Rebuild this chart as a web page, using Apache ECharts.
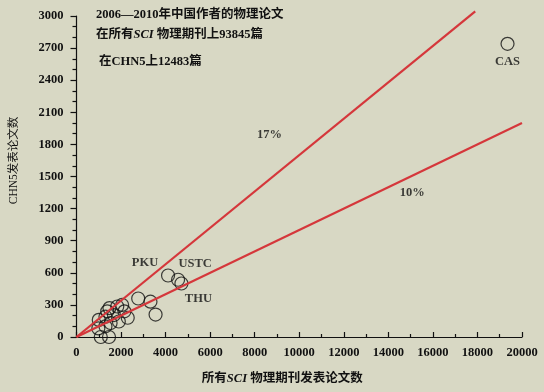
<!DOCTYPE html>
<html><head><meta charset="utf-8">
<script src="https://cdn.jsdelivr.net/npm/echarts@6/dist/echarts.min.js"></script>
<style>html,body{margin:0;padding:0;background:#d8d8c4;}#c{width:544px;height:392px;}</style>
</head><body><div id="c"></div>
<script>
// Data
const points = [
  [980, 80], [1090, 0], [1460, 0], [1000, 160], [1300, 190], [1680, 205],
  [1530, 130], [1900, 145], [1300, 100], [1480, 270], [1830, 285], [2050, 300],
  [2150, 240], [2300, 180], [1380, 240], [2770, 360], [3320, 330], [3550, 210]
];
const namedNames = ['PKU', 'USTC', 'THU', 'CAS'];
const namedPoints = [[4110, 575], [4560, 535], [4710, 500], [19350, 2740]];
const line17 = [[0, 0], [17900, 3043]];
const line10 = [[0, 0], [20000, 2000]];
const lineLabels = ['17%', '10%'];
const lineLabelPos = [[8670, 1890], [15070, 1350]];
const xTicks = [0, 20000, 2000];
const yTicks = [0, 3000, 300];
const titleLines = ['2006—2010年中国作者的物理论文', '在所有{i|SCI} 物理期刊上93845篇', '在CHN5上12483篇'];

const FONT = "'Liberation Serif','Noto Sans CJK SC',serif";
const TXT = '#111';
const labelOffsets = [[-23, -13], [17, -16], [17, 15], [0, 18]];

const chart = echarts.init(document.getElementById('c'));
chart.setOption({
  backgroundColor: '#d8d8c4',
  animation: false,
  grid: { left: 74, right: 22, top: 16, bottom: 55 },
  xAxis: {
    type: 'value', min: xTicks[0], max: xTicks[1], interval: xTicks[2],
    name: '所有{i|SCI} 物理期刊发表论文数', nameLocation: 'middle', nameGap: 36,
    nameTextStyle: { fontFamily: FONT, fontWeight: 'bold', fontSize: 12.5, color: TXT, padding: [0, 34, 0, 0],
      rich: { i: { fontFamily: FONT, fontStyle: 'italic', fontWeight: 'bold', fontSize: 12.5, color: TXT } } },
    axisLine: { show: true, onZero: false, lineStyle: { color: '#111', width: 1.2 } },
    axisTick: { show: true, inside: true, length: 5, lineStyle: { color: '#111', width: 1.2 } },
    minorTick: { show: true, splitNumber: 2, length: 3, lineStyle: { color: '#111', width: 1.2 } },
    axisLabel: { fontFamily: FONT, fontWeight: 'bold', fontSize: 12.5, color: TXT, margin: 10,
      formatter: v => String(v) },
    splitLine: { show: false }
  },
  yAxis: {
    type: 'value', min: yTicks[0], max: yTicks[1], interval: yTicks[2],
    name: 'CHN5发表论文数', nameLocation: 'middle', nameGap: 57, nameRotate: 90,
    nameTextStyle: { fontFamily: FONT, fontWeight: 'normal', fontSize: 11.5, color: TXT, padding: [0, 0, 0, 32] },
    axisLine: { show: true, onZero: false, lineStyle: { color: '#111', width: 1.2 } },
    axisTick: { show: true, inside: false, length: 6, lineStyle: { color: '#111', width: 1.2 } },
    minorTick: { show: true, splitNumber: 3, length: 4, lineStyle: { color: '#111', width: 1.2 } },
    axisLabel: { fontFamily: FONT, fontWeight: 'bold', fontSize: 12.5, color: TXT, margin: 13,
      formatter: v => String(v) },
    splitLine: { show: false }
  },
  series: [
    {
      type: 'scatter', data: points, symbol: 'circle', symbolSize: 13,
      itemStyle: { color: 'rgba(0,0,0,0)', borderColor: '#111', borderWidth: 1.2 }, z: 3
    },
    {
      type: 'scatter', symbol: 'circle', symbolSize: 13,
      itemStyle: { color: 'rgba(0,0,0,0)', borderColor: '#111', borderWidth: 1.2 }, z: 3,
      data: namedPoints.map((p, i) => ({
        value: p, name: namedNames[i],
        label: { show: true, position: 'inside', offset: labelOffsets[i], formatter: namedNames[i],
          fontFamily: FONT, fontWeight: 'bold', fontSize: 12.5, color: TXT }
      }))
    },
    {
      type: 'line', data: line17, symbol: 'none', z: 4, clip: false,
      lineStyle: { color: '#d5373b', width: 2.2 }
    },
    {
      type: 'line', data: line10, symbol: 'none', z: 4, clip: false,
      lineStyle: { color: '#d5373b', width: 2.2 }
    },
    {
      type: 'scatter', symbolSize: 0, silent: true,
      data: lineLabelPos.map((p, i) => ({ value: p, name: lineLabels[i] })),
      label: { show: true, position: 'inside', formatter: p => p.name,
        fontFamily: FONT, fontWeight: 'bold', fontSize: 12.5, color: TXT }
    }
  ],
  graphic: titleLines.map((t, i) => ({
    type: 'text', left: i === 2 ? 99 : 96, top: [9, 29, 56][i],
    style: { text: t, font: 'bold 12.5px ' + FONT, fill: TXT,
      rich: { i: { fontFamily: FONT, fontStyle: 'italic', fontWeight: 'bold', fontSize: 12.5, fill: TXT } } }
  }))
});
</script></body></html>
